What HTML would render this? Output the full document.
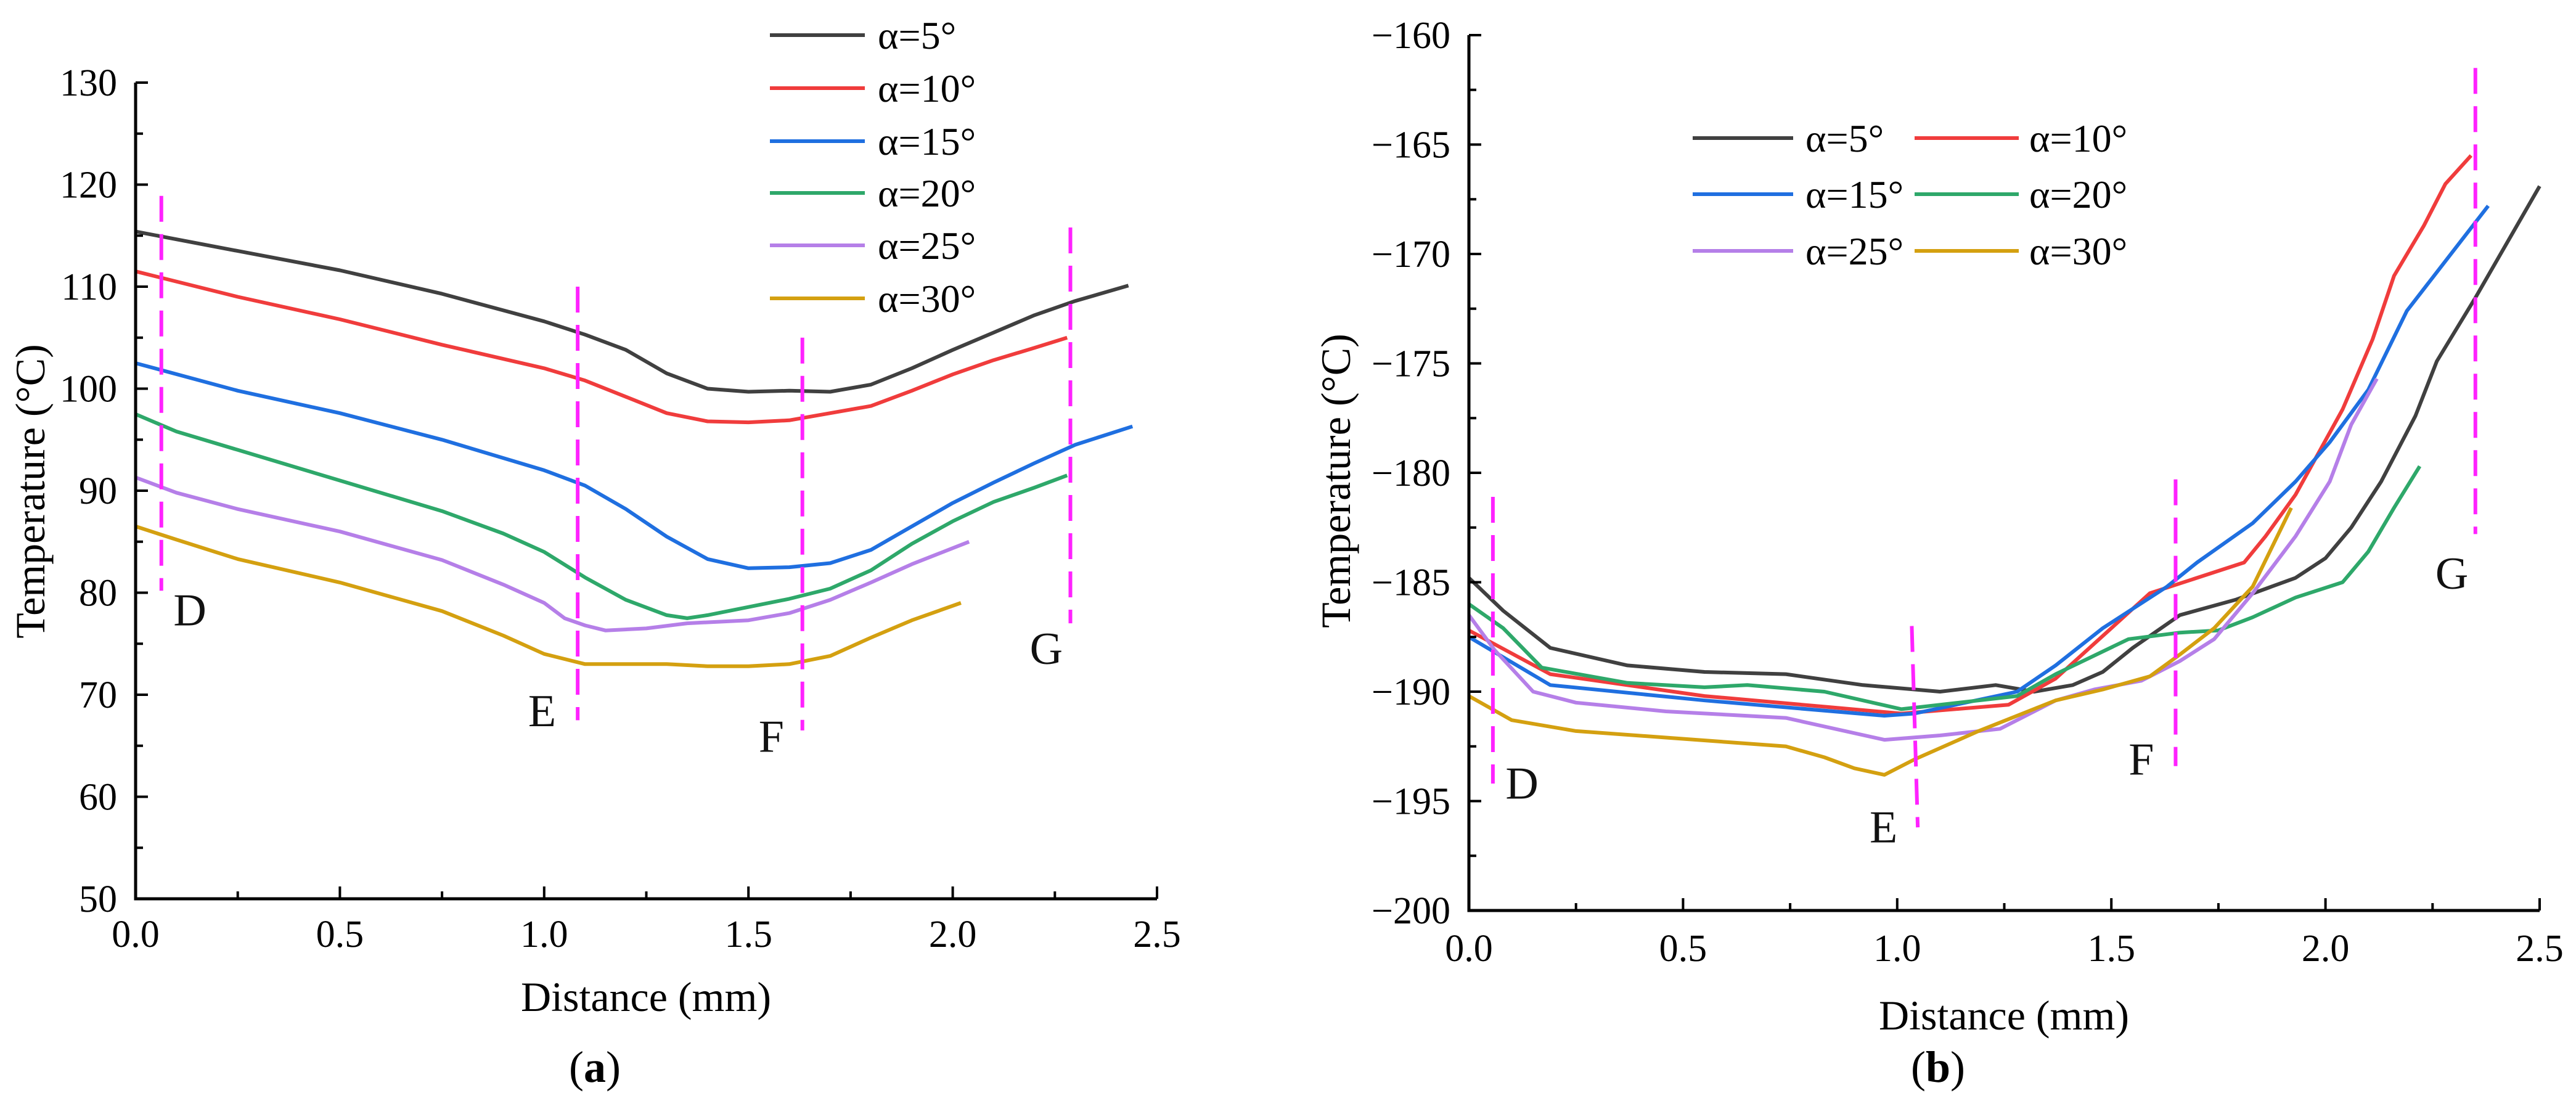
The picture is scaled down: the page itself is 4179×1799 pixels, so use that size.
<!DOCTYPE html>
<html><head><meta charset="utf-8"><style>
html,body{margin:0;padding:0;background:#fff;}
svg{display:block;font-family:"Liberation Serif","Times New Roman",serif;}
svg text{font-family:"Liberation Serif","Times New Roman",serif;}
</style></head><body>
<svg id="fig" width="4179" height="1799" viewBox="0 0 4179 1799" xmlns="http://www.w3.org/2000/svg" font-family="Liberation Serif, serif"></svg>
<script>
// ---- Chart (a) data ----
const aSeriesNames = ["α=5°","α=10°","α=15°","α=20°","α=25°","α=30°"];
const aX5  = [0,0.25,0.5,0.75,1.0,1.1,1.2,1.3,1.4,1.5,1.6,1.7,1.8,1.9,2.0,2.1,2.2,2.3,2.43];
const aY5  = [115.4,113.5,111.6,109.3,106.6,105.3,103.8,101.5,100.0,99.7,99.8,99.7,100.4,102.0,103.8,105.5,107.2,108.6,110.1];
const aX10 = [0,0.25,0.5,0.75,1.0,1.1,1.2,1.3,1.4,1.5,1.6,1.7,1.8,1.9,2.0,2.1,2.2,2.28];
const aY10 = [111.5,109,106.8,104.3,102,100.8,99.2,97.6,96.8,96.7,96.9,97.6,98.3,99.8,101.4,102.8,104,105];
const aX15 = [0,0.25,0.5,0.75,1.0,1.1,1.2,1.3,1.4,1.5,1.6,1.7,1.8,1.9,2.0,2.1,2.2,2.3,2.44];
const aY15 = [102.5,99.8,97.6,95.0,92.0,90.5,88.2,85.5,83.3,82.4,82.5,82.9,84.2,86.5,88.8,90.8,92.7,94.5,96.3];
const aX20 = [0,0.1,0.25,0.5,0.75,0.9,1.0,1.1,1.2,1.3,1.35,1.4,1.5,1.6,1.7,1.8,1.9,2.0,2.1,2.2,2.28];
const aY20 = [97.5,95.8,94,91,88,85.8,84,81.5,79.3,77.8,77.5,77.8,78.6,79.4,80.4,82.2,84.8,87,88.9,90.3,91.5];
const aX25 = [0,0.1,0.25,0.5,0.75,0.9,1.0,1.05,1.1,1.15,1.25,1.35,1.5,1.6,1.7,1.8,1.9,2.04];
const aY25 = [91.3,89.8,88.2,86,83.2,80.8,79,77.5,76.8,76.3,76.5,77,77.3,78,79.3,81,82.8,85];
const aX30 = [0,0.1,0.25,0.5,0.75,0.9,1.0,1.1,1.2,1.3,1.4,1.5,1.6,1.7,1.8,1.9,2.02];
const aY30 = [86.5,85.2,83.3,81,78.2,75.8,74,73,73,73,72.8,72.8,73,73.8,75.6,77.3,79];
const aXTicks = ["0.0","0.5","1.0","1.5","2.0","2.5"];
const aYTicks = ["50","60","70","80","90","100","110","120","130"];
const aMarkX = [0.063,1.082,1.632,2.288];
const aMarkTop = [118.9,110,105,115.8];
const aMarkBot = [80.2,67.5,66.5,77];
const aMarkLabels = ["D","E","F","G"];
const aLabelX = [0.133,0.995,1.556,2.229];
const aLabelY = [78.5,68.6,66.1,74.7];

// ---- Chart (b) data ----
const bX5  = [0,0.08,0.19,0.37,0.55,0.74,0.92,1.1,1.23,1.32,1.41,1.48,1.55,1.66,1.79,1.93,2.0,2.06,2.13,2.21,2.26,2.35,2.5];
const bY5  = [-184.8,-186.3,-188,-188.8,-189.1,-189.2,-189.7,-190,-189.7,-190,-189.7,-189.1,-188,-186.5,-185.8,-184.8,-183.9,-182.5,-180.4,-177.4,-174.9,-172,-166.9];
const bX10 = [0,0.19,0.55,1.01,1.26,1.37,1.5,1.59,1.7,1.81,1.86,1.93,2.04,2.11,2.16,2.23,2.28,2.34];
const bY10 = [-187.2,-189.2,-190.2,-191,-190.6,-189.4,-187.1,-185.5,-184.8,-184.1,-182.9,-181,-177.1,-173.9,-171,-168.7,-166.8,-165.5];
const bX15 = [0,0.19,0.55,0.97,1.04,1.28,1.37,1.48,1.63,1.7,1.83,1.93,2.01,2.1,2.19,2.38];
const bY15 = [-187.5,-189.7,-190.4,-191.1,-191,-190,-188.8,-187.1,-185.2,-184.1,-182.3,-180.4,-178.6,-176.2,-172.6,-167.8];
const bX20 = [0,0.08,0.17,0.37,0.55,0.65,0.83,1.01,1.28,1.37,1.54,1.66,1.75,1.83,1.93,2.04,2.1,2.16,2.22];
const bY20 = [-186,-187.1,-188.9,-189.6,-189.8,-189.7,-190,-190.8,-190.2,-189.2,-187.6,-187.3,-187.2,-186.6,-185.7,-185,-183.6,-181.6,-179.7];
const bX25 = [0,0.06,0.15,0.25,0.46,0.74,0.97,1.1,1.24,1.37,1.46,1.57,1.66,1.74,1.83,1.93,2.01,2.06,2.12];
const bY25 = [-186.5,-188.1,-190,-190.5,-190.9,-191.2,-192.2,-192,-191.7,-190.4,-189.9,-189.5,-188.6,-187.6,-185.5,-182.9,-180.4,-177.8,-175.7];
const bX30 = [0,0.1,0.25,0.46,0.74,0.83,0.9,0.97,1.04,1.19,1.37,1.48,1.59,1.66,1.74,1.83,1.92];
const bY30 = [-190.2,-191.3,-191.8,-192.1,-192.5,-193,-193.5,-193.8,-193.1,-191.8,-190.4,-189.9,-189.3,-188.3,-187.1,-185.2,-181.6];
const bXTicks = ["0.0","0.5","1.0","1.5","2.0","2.5"];
const bYTicks = ["−200","−195","−190","−185","−180","−175","−170","−165","−160"];
const bMarkX1 = [0.056,1.034,1.65,2.35];
const bMarkX2 = [0.056,1.048,1.65,2.35];
const bMarkTop = [-181.1,-187,-180.3,-161.5];
const bMarkBot = [-194.2,-196.2,-193.4,-182.8];
const bMarkLabels = ["D","E","F","G"];
const bLabelX = [0.124,0.968,1.57,2.295];
const bLabelY = [-194.1,-196.1,-193,-184.5];

const colors = ["#404040","#f03c3c","#1f6fe0","#2ea86a","#b57fe8","#d4a010"];
const FONT = "Liberation Serif, serif";
const NS = "http://www.w3.org/2000/svg";
const svg = document.getElementById("fig");
function mk(tag, attrs, parent, text){
  const e = document.createElementNS(NS, tag);
  for (const k in attrs) e.setAttribute(k, attrs[k]);
  if (tag === "text") e.setAttribute("font-family", FONT);
  if (text !== undefined) e.textContent = text;
  (parent || svg).appendChild(e);
  return e;
}

function drawChart(cfg){
  const g = mk("g", {});
  
  
  const sx = v => cfg.x0 + (v - cfg.xmin) / (cfg.xmax - cfg.xmin) * (cfg.x1 - cfg.x0);
  const sy = v => cfg.y0 + (v - cfg.ymin) / (cfg.ymax - cfg.ymin) * (cfg.y1 - cfg.y0);
  cfg.series.forEach((s, i) => {
    const d = s.x.map((xv, j) => (j ? "L" : "M") + sx(xv).toFixed(1) + " " + sy(s.y[j]).toFixed(1)).join(" ");
    const p = mk("path", {d: d, fill: "none", stroke: colors[i], "stroke-width": 6, "stroke-linejoin": "round"}, g);
    
    
  });
  cfg.markX1.forEach((mx, i) => {
    const l = mk("line", {x1: sx(mx), y1: sy(cfg.markTop[i]), x2: sx(cfg.markX2[i]), y2: sy(cfg.markBot[i]), stroke: "#ff22ff", "stroke-width": 6, "stroke-dasharray": "42 20"}, g);
    
    
    const t = mk("text", {x: sx(cfg.labelX[i]), y: sy(cfg.labelY[i]) + 28, "font-size": 74, "text-anchor": "middle", fill: "#111"}, g, cfg.markLabels[i]);
    
    
  });
  const ax = mk("path", {d: `M${cfg.x0} ${cfg.y1} L${cfg.x0} ${cfg.y0} L${cfg.x1} ${cfg.y0}`, fill: "none", stroke: "#000", "stroke-width": 5}, g);
  
  
  const nx = cfg.xTicks.length;
  for (let k = 0; k < nx; k++){
    const v = cfg.xmin + k * (cfg.xmax - cfg.xmin) / (nx - 1);
    if (k > 0) mk("line", {x1: sx(v), y1: cfg.y0, x2: sx(v), y2: cfg.y0 - 20, stroke: "#000", "stroke-width": 4}, g);
    if (k < nx - 1){ const m = v + (cfg.xmax - cfg.xmin) / (nx - 1) / 2;
      mk("line", {x1: sx(m), y1: cfg.y0, x2: sx(m), y2: cfg.y0 - 12, stroke: "#000", "stroke-width": 4}, g); }
    const t = mk("text", {x: sx(v), y: cfg.y0 + cfg.xLabOff, "font-size": 62, "text-anchor": "middle"}, g, cfg.xTicks[k]);
    
    
  }
  const ny = cfg.yTicks.length;
  for (let k = 0; k < ny; k++){
    const v = cfg.ymin + k * (cfg.ymax - cfg.ymin) / (ny - 1);
    if (k > 0) mk("line", {x1: cfg.x0, y1: sy(v), x2: cfg.x0 + 20, y2: sy(v), stroke: "#000", "stroke-width": 4}, g);
    if (k < ny - 1){ const m = v + (cfg.ymax - cfg.ymin) / (ny - 1) / 2;
      mk("line", {x1: cfg.x0, y1: sy(m), x2: cfg.x0 + 12, y2: sy(m), stroke: "#000", "stroke-width": 4}, g); }
    const t = mk("text", {x: cfg.x0 - 30, y: sy(v) + 21, "font-size": 62, "text-anchor": "end"}, g, cfg.yTicks[k]);
    
    
  }
  const xt = mk("text", {x: cfg.xTitleX, y: cfg.xTitleY, "font-size": 68, "text-anchor": "middle"}, g, "Distance (mm)");
  
  
  const yt = mk("text", {x: 0, y: 0, "font-size": 68, "text-anchor": "middle", transform: `translate(${cfg.yTitleX},${cfg.yTitleY}) rotate(-90)`}, g, "Temperature (°C)");
  
  
  cfg.legend.forEach((L, i) => {
    const lg = mk("g", {}, g);
    
    
    mk("line", {x1: L[0], y1: L[2], x2: L[1], y2: L[2], stroke: colors[i], "stroke-width": 6}, lg);
    mk("text", {x: L[3], y: L[2] + 22, "font-size": 64}, lg, aSeriesNames[i]);
  });
  const cap = mk("text", {x: cfg.capX, y: 1755, "font-size": 72, "text-anchor": "middle"}, g);
  
  
  mk("tspan", {}, cap, "(");
  mk("tspan", {"font-weight": "bold"}, cap, cfg.capLetter);
  mk("tspan", {}, cap, ")");
}

drawChart({name: "chart-a", x0: 220, x1: 1877, y0: 1458, y1: 134, xmin: 0, xmax: 2.5, ymin: 50, ymax: 130,
  series: [{x:aX5,y:aY5},{x:aX10,y:aY10},{x:aX15,y:aY15},{x:aX20,y:aY20},{x:aX25,y:aY25},{x:aX30,y:aY30}],
  markX1: aMarkX, markX2: aMarkX, markTop: aMarkTop, markBot: aMarkBot, markLabels: aMarkLabels, labelX: aLabelX, labelY: aLabelY,
  xTicks: aXTicks, yTicks: aYTicks, xLabOff: 78, xTitleX: 1048, xTitleY: 1640, yTitleX: 72, yTitleY: 797,
  legend: [[1249,1403,57,1424],[1249,1403,143,1424],[1249,1403,229,1424],[1249,1403,313,1424],[1249,1403,398,1424],[1249,1403,484,1424]],
  capX: 965, capLetter: "a"});
drawChart({name: "chart-b", x0: 2383, x1: 4120, y0: 1477, y1: 57, xmin: 0, xmax: 2.5, ymin: -200, ymax: -160,
  series: [{x:bX5,y:bY5},{x:bX10,y:bY10},{x:bX15,y:bY15},{x:bX20,y:bY20},{x:bX25,y:bY25},{x:bX30,y:bY30}],
  markX1: bMarkX1, markX2: bMarkX2, markTop: bMarkTop, markBot: bMarkBot, markLabels: bMarkLabels, labelX: bLabelX, labelY: bLabelY,
  xTicks: bXTicks, yTicks: bYTicks, xLabOff: 82, xTitleX: 3251, xTitleY: 1670, yTitleX: 2190, yTitleY: 780,
  legend: [[2746,2909,224,2929],[3106,3275,224,3292],[2746,2909,315,2929],[3106,3275,315,3292],[2746,2909,407,2929],[3106,3275,407,3292]],
  capX: 3144, capLetter: "b"});
</script>
</body></html>
